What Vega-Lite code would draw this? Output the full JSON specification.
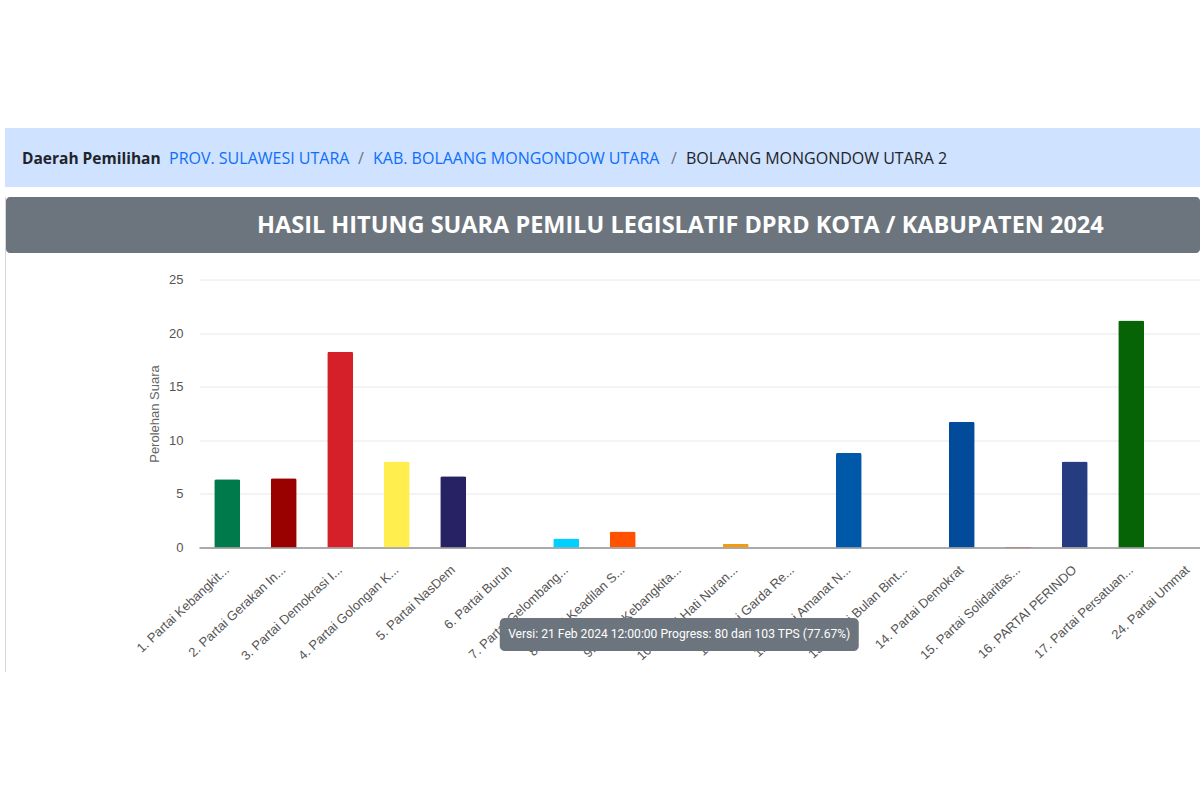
{
  "$schema": "https://vega.github.io/schema/vega-lite/v6.json",
  "background": "white",
  "padding": {"left": 5, "top": 128, "right": 0, "bottom": 0},
  "config": {"view": {"stroke": null}, "font": "Liberation Sans"},
  "spacing": 10,
  "vconcat": [
    {
      "spacing": 0,
      "bounds": "flush",
      "hconcat": [
        {"width": 164, "height": 59, "data": {"values": []}, "mark": "text", "encoding": {}, "view": {"fill": "#cfe2ff"},
         "title": {"text": "Daerah Pemilihan", "frame": "group", "orient": "top", "anchor": "start", "offset": 0, "baseline": "middle", "dy": 46, "dx": 17, "font": "Open Sans", "fontSize": 15.5, "fontWeight": "bold", "color": "#212529"}},
        {"width": 189, "height": 59, "data": {"values": []}, "mark": "text", "encoding": {}, "view": {"fill": "#cfe2ff"},
         "title": {"text": "PROV. SULAWESI UTARA", "frame": "group", "orient": "top", "anchor": "start", "offset": 0, "baseline": "middle", "dy": 46.5, "font": "Open Sans", "fontSize": 16, "fontWeight": "normal", "color": "#0d6efd"}},
        {"width": 15, "height": 59, "data": {"values": []}, "mark": "text", "encoding": {}, "view": {"fill": "#cfe2ff"},
         "title": {"text": "/", "frame": "group", "orient": "top", "anchor": "start", "offset": 0, "baseline": "middle", "dy": 46.5, "font": "Open Sans", "fontSize": 16, "fontWeight": "normal", "color": "#6c757d"}},
        {"width": 298, "height": 59, "data": {"values": []}, "mark": "text", "encoding": {}, "view": {"fill": "#cfe2ff"},
         "title": {"text": "KAB. BOLAANG MONGONDOW UTARA", "frame": "group", "orient": "top", "anchor": "start", "offset": 0, "baseline": "middle", "dy": 46.5, "font": "Open Sans", "fontSize": 16, "fontWeight": "normal", "color": "#0d6efd"}},
        {"width": 15, "height": 59, "data": {"values": []}, "mark": "text", "encoding": {}, "view": {"fill": "#cfe2ff"},
         "title": {"text": "/", "frame": "group", "orient": "top", "anchor": "start", "offset": 0, "baseline": "middle", "dy": 46.5, "font": "Open Sans", "fontSize": 16, "fontWeight": "normal", "color": "#6c757d"}},
        {"width": 514, "height": 59, "data": {"values": []}, "mark": "text", "encoding": {}, "view": {"fill": "#cfe2ff"},
         "title": {"text": "BOLAANG MONGONDOW UTARA 2", "frame": "group", "orient": "top", "anchor": "start", "offset": 0, "baseline": "middle", "dy": 46.5, "font": "Open Sans", "fontSize": 16, "fontWeight": "normal", "color": "#212529"}}
      ]
    },
    {
      "spacing": 0,
      "hconcat": [
        {"width": 1, "height": 475, "data": {"values": []}, "mark": "text", "encoding": {}, "view": {"fill": "#d6d6d6"}},
        {
          "spacing": 20.5,
          "vconcat": [
            {"width": 1194, "height": 56, "data": {"values": []}, "mark": "text", "encoding": {}, "view": {"fill": "#6c757d", "cornerRadius": 4},
             "title": {"text": "HASIL HITUNG SUARA PEMILU LEGISLATIF DPRD KOTA / KABUPATEN 2024", "frame": "group", "orient": "top", "anchor": "start", "offset": 0, "baseline": "middle", "dy": 52.5, "dx": 251, "font": "Open Sans", "fontSize": 23.5, "fontWeight": "bold", "color": "#ffffff"}},
            {
              "spacing": 192,
              "bounds": "flush",
              "hconcat": [
                {"width": 1, "height": 1, "data": {"values": []}, "mark": "text", "encoding": {}},
                {
                  "width": 1001,
                  "height": 268,
                  "layer": [
                    {
                      "data": {"values": [
                        {"partai": "1. Partai Kebangkit...", "suara": 6.37},
                        {"partai": "2. Partai Gerakan In...", "suara": 6.46},
                        {"partai": "3. Partai Demokrasi I...", "suara": 18.25},
                        {"partai": "4. Partai Golongan K...", "suara": 8.02},
                        {"partai": "5. Partai NasDem", "suara": 6.65},
                        {"partai": "6. Partai Buruh", "suara": 0},
                        {"partai": "7. Partai Gelombang...", "suara": 0.84},
                        {"partai": "8. Partai Keadilan S...", "suara": 1.49},
                        {"partai": "9. Partai Kebangkita...", "suara": 0},
                        {"partai": "10. Partai Hati Nuran...", "suara": 0.34},
                        {"partai": "11. Partai Garda Re...", "suara": 0},
                        {"partai": "12. Partai Amanat N...", "suara": 8.82},
                        {"partai": "13. Partai Bulan Bint...", "suara": 0},
                        {"partai": "14. Partai Demokrat", "suara": 11.72},
                        {"partai": "15. Partai Solidaritas...", "suara": 0.05},
                        {"partai": "16. PARTAI PERINDO", "suara": 8.02},
                        {"partai": "17. Partai Persatuan...", "suara": 21.18},
                        {"partai": "24. Partai Ummat", "suara": 0}
                      ]},
                      "mark": {"type": "bar", "cornerRadiusTopLeft": 2, "cornerRadiusTopRight": 2},
                      "encoding": {
                        "x": {"field": "partai", "type": "nominal", "sort": null,
                          "scale": {"domain": ["1. Partai Kebangkit...", "2. Partai Gerakan In...", "3. Partai Demokrasi I...", "4. Partai Golongan K...", "5. Partai NasDem", "6. Partai Buruh", "7. Partai Gelombang...", "8. Partai Keadilan S...", "9. Partai Kebangkita...", "10. Partai Hati Nuran...", "11. Partai Garda Re...", "12. Partai Amanat N...", "13. Partai Bulan Bint...", "14. Partai Demokrat", "15. Partai Solidaritas...", "16. PARTAI PERINDO", "17. Partai Persatuan...", "24. Partai Ummat"], "range": [0, 1017], "paddingInner": 0.54, "paddingOuter": 0.27},
                          "axis": {"title": null, "domain": false, "ticks": false, "tickSize": 0, "grid": false, "labelAngle": -43, "labelAlign": "right", "labelBaseline": "middle", "labelPadding": 20, "labelFontSize": 13, "labelColor": "#555555", "labelLimit": 0, "labelOverlap": false, "zindex": 0}},
                        "y": {"field": "suara", "type": "quantitative",
                          "scale": {"domain": [0, 25], "padding": 0, "nice": false},
                          "axis": {"title": "Perolehan Suara", "titleColor": "#666666", "titleFontSize": 13, "titleFontWeight": "normal", "titlePadding": 7, "values": [0, 5, 10, 15, 20, 25], "domain": false, "ticks": false, "tickSize": 0, "labelPadding": 16, "labelFontSize": 13, "labelColor": "#555555", "grid": true, "gridColor": {"condition": {"test": "datum.value === 0", "value": "#555555"}, "value": "#e8e8e8"}, "zindex": 0}},
                        "color": {"field": "partai", "type": "nominal", "legend": null,
                          "scale": {"domain": ["1. Partai Kebangkit...", "2. Partai Gerakan In...", "3. Partai Demokrasi I...", "4. Partai Golongan K...", "5. Partai NasDem", "6. Partai Buruh", "7. Partai Gelombang...", "8. Partai Keadilan S...", "9. Partai Kebangkita...", "10. Partai Hati Nuran...", "11. Partai Garda Re...", "12. Partai Amanat N...", "13. Partai Bulan Bint...", "14. Partai Demokrat", "15. Partai Solidaritas...", "16. PARTAI PERINDO", "17. Partai Persatuan...", "24. Partai Ummat"],
                                    "range": ["#00794b", "#990000", "#d51f29", "#ffee4d", "#272263", "#ff6600", "#00d0ff", "#ff5100", "#a51a1e", "#f29c12", "#f0c419", "#0058a8", "#0b7a3a", "#014b9a", "#e61c2b", "#253d80", "#066306", "#1a1a1a"]}}
                      }
                    },
                    {
                      "data": {"values": [{"info": "Versi: 21 Feb 2024 12:00:00 Progress: 80 dari 103 TPS (77.67%)"}]},
                      "mark": {"type": "rect", "fill": "#6c757d", "cornerRadius": 5, "width": 359},
                      "encoding": {
                        "x": {"datum": "9. Partai Kebangkita...", "type": "nominal"},
                        "y": {"datum": -6.57, "type": "quantitative"},
                        "y2": {"datum": -9.65}
                      }
                    },
                    {
                      "data": {"values": [{"info": "Versi: 21 Feb 2024 12:00:00 Progress: 80 dari 103 TPS (77.67%)"}]},
                      "mark": {"type": "text", "color": "#ffffff", "font": "Roboto", "fontSize": 12.1, "baseline": "middle"},
                      "encoding": {
                        "x": {"datum": "9. Partai Kebangkita...", "type": "nominal"},
                        "y": {"datum": -8.1, "type": "quantitative"},
                        "text": {"field": "info", "type": "nominal"}
                      }
                    }
                  ]
                }
              ]
            }
          ]
        }
      ]
    }
  ]
}
